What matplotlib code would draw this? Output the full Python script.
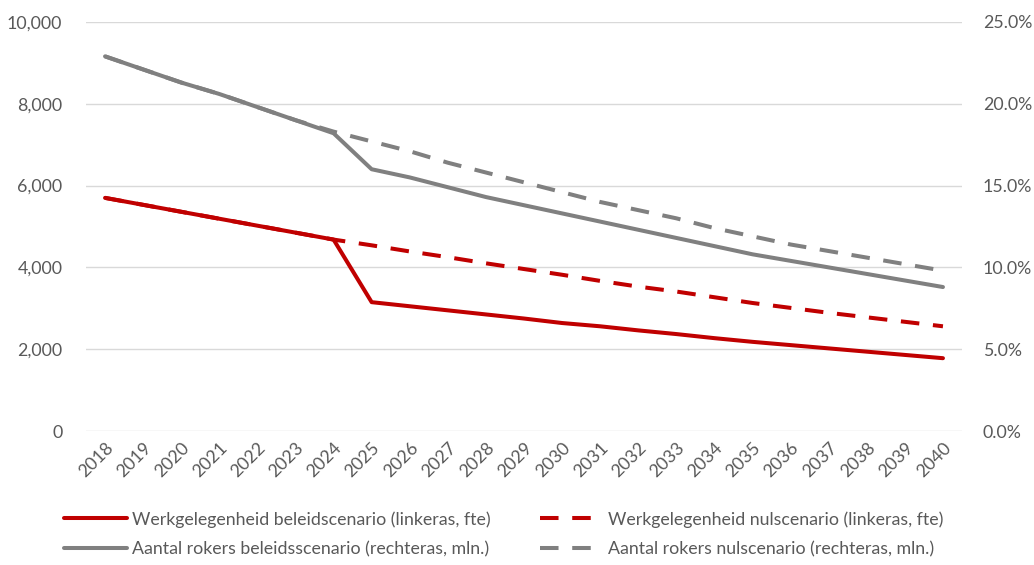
import matplotlib.pyplot as plt
from matplotlib.ticker import FuncFormatter

plt.rcParams['font.family'] = ['Lato', 'DejaVu Sans']

years = list(range(2018, 2041))

# werkgelegenheid (fte), linkeras
werk_beleid = [5700, 5530, 5360, 5190, 5020, 4850, 4680, 3150, 3050, 2950, 2850, 2750,
               2640, 2560, 2460, 2370, 2270, 2180, 2100, 2020, 1940, 1860, 1780]
werk_nul = [5700, 5530, 5360, 5190, 5020, 4850, 4680, 4540, 4390, 4250, 4100, 3960,
            3820, 3670, 3530, 3410, 3270, 3130, 3010, 2890, 2780, 2670, 2560]

# aantal rokers (%), rechteras
rokers_beleid = [22.9, 22.1, 21.3, 20.6, 19.8, 19.0, 18.2, 16.0, 15.5, 14.9, 14.3, 13.8,
                 13.3, 12.8, 12.3, 11.8, 11.3, 10.8, 10.4, 10.0, 9.6, 9.2, 8.8]
rokers_nul = [22.9, 22.1, 21.3, 20.6, 19.8, 19.0, 18.3, 17.7, 17.1, 16.4, 15.8, 15.2,
              14.6, 14.0, 13.5, 13.0, 12.4, 11.9, 11.4, 11.0, 10.6, 10.2, 9.8]

red = '#C00000'
grey = '#808080'
txt = '#595959'
fs = 12.8

fig = plt.figure(figsize=(10.34, 5.65), dpi=100)
ax = fig.add_axes([86/1034, 1-431/565, (962-86)/1034, (431-22)/565])
ax2 = ax.twinx()

x = range(len(years))
lw = 2.9
dash = (4.6, 3.4)

l1, = ax.plot(x, werk_beleid, color=red, lw=lw, solid_capstyle='round',
              label='Werkgelegenheid beleidscenario (linkeras, fte)')
l2, = ax.plot(x, werk_nul, color=red, lw=lw, dashes=dash,
              label='Werkgelegenheid nulscenario (linkeras, fte)')
l3, = ax2.plot(x, rokers_beleid, color=grey, lw=lw, solid_capstyle='round',
               label='Aantal rokers beleidsscenario (rechteras, mln.)')
l4, = ax2.plot(x, rokers_nul, color=grey, lw=lw, dashes=dash,
               label='Aantal rokers nulscenario (rechteras, mln.)')

ax.set_xlim(-0.5, len(years) - 0.5)
ax.set_ylim(0, 10000)
ax2.set_ylim(0, 25)
ax.set_yticks(range(0, 10001, 2000))
ax2.set_yticks([0, 5, 10, 15, 20, 25])
ax.yaxis.set_major_formatter(FuncFormatter(lambda v, p: f'{v:,.0f}'))
ax2.yaxis.set_major_formatter(FuncFormatter(lambda v, p: f'{v:.1f}%'))
ax.set_xticks(list(x))
ax.set_xticklabels([str(y) for y in years], rotation=45, ha='right',
                   rotation_mode='anchor')

ax.grid(axis='y', color='#D9D9D9', lw=1)
ax.set_axisbelow(True)
for a in (ax, ax2):
    for s in a.spines.values():
        s.set_visible(False)
    a.tick_params(length=0, labelsize=fs, labelcolor=txt)
ax.tick_params(axis='y', pad=17)
ax2.tick_params(axis='y', pad=15)
ax.tick_params(axis='x', pad=6)

fig.legend(handles=[l1, l3, l2, l4], ncol=2, loc='upper left',
           bbox_to_anchor=(64/1034, 1-511/565), frameon=False,
           fontsize=fs, labelcolor=txt, handlelength=3.55, handletextpad=0.25,
           columnspacing=2.8, labelspacing=0.75, borderpad=0, borderaxespad=0)

fig.savefig('out.png', dpi=100)
